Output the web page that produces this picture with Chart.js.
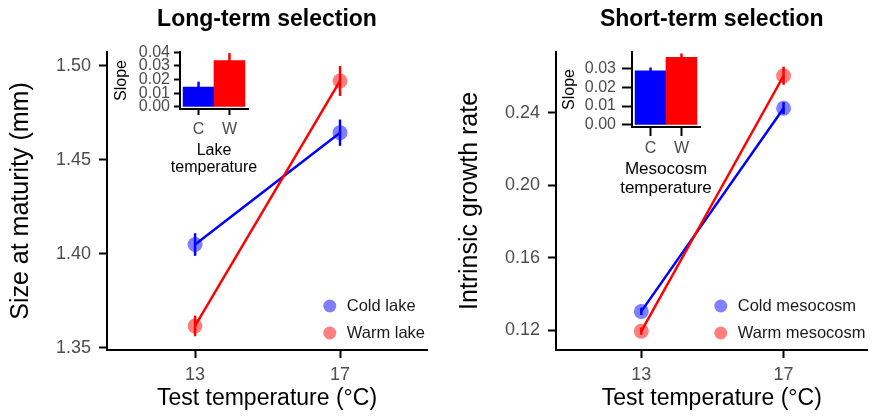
<!DOCTYPE html>
<html>
<head>
<meta charset="utf-8">
<script src="https://cdn.jsdelivr.net/npm/chart.js@4"></script>
<style>
  body { margin: 0; background: #fff; }
  #wrap { position: relative; width: 875px; height: 416px; overflow: hidden; }
  canvas { position: absolute; }
</style>
</head>
<body>
<div id="wrap">
  <canvas id="main1" width="437" height="416" style="left:0;top:0"></canvas>
  <canvas id="main2" width="438" height="416" style="left:437px;top:0"></canvas>
  <canvas id="inset1" width="170" height="145" style="left:110px;top:40px"></canvas>
  <canvas id="inset2" width="170" height="165" style="left:560px;top:40px"></canvas>
</div>
<script>
// data
var testTemps = [13, 17];

var coldLakeSize = [1.405, 1.4645];
var coldLakeErr = [0.006, 0.007];
var warmLakeSize = [1.3617, 1.492];
var warmLakeErr = [0.0055, 0.008];
var lakeTicks = [1.35, 1.40, 1.45, 1.50];

var coldMesoRate = [0.1305, 0.2426];
var coldMesoErr = [0.002, 0.0033];
var warmMesoRate = [0.1196, 0.2605];
var warmMesoErr = [0.002, 0.005];
var mesoTicks = [0.12, 0.16, 0.20, 0.24];

var insetCats = ['C', 'W'];
var lakeSlopes = [0.0145, 0.0339];
var lakeSlopeErr = [0.004, 0.0055];
var lakeSlopeTicks = [0, 0.01, 0.02, 0.03, 0.04];
var mesoSlopes = [0.0286, 0.0358];
var mesoSlopeErr = [0.0018, 0.002];
var mesoSlopeTicks = [0, 0.01, 0.02, 0.03];

var BLUE = '#0000ff', RED = '#ff0000';
var BLUE_A = 'rgba(0,0,255,0.5)', RED_A = 'rgba(255,0,0,0.5)';
var FONT = "'Liberation Sans', Arial, Helvetica, sans-serif";
var TICK_GREY = '#4d4d4d';

Chart.defaults.font.family = FONT;

function toPoints(xs, ys) {
  return xs.map(function(x, i) { return {x: x, y: ys[i]}; });
}

function fixedTicks(list) {
  return function(scale) {
    scale.ticks = list.map(function(v) { return {value: v}; });
  };
}

function noPad(scale) {
  scale.paddingTop = 0;
  scale.paddingBottom = 0;
  scale.paddingLeft = 0;
  scale.paddingRight = 0;
}

// vertical error bars drawn through the chart's own scales
var errorBars = {
  id: 'errorBars',
  afterDatasetsDraw: function(chart) {
    var ctx = chart.ctx;
    var xs = chart.scales.x, ys = chart.scales.y;
    ctx.save();
    ctx.lineWidth = 2.5;
    chart.data.datasets.forEach(function(ds) {
      if (!ds.errors) return;
      ds.data.forEach(function(p, i) {
        var px = xs.getPixelForValue(p.x);
        ctx.strokeStyle = Array.isArray(ds.errColor) ? ds.errColor[i] : ds.errColor;
        ctx.beginPath();
        ctx.moveTo(px, ys.getPixelForValue(p.y - ds.errors[i]));
        ctx.lineTo(px, ys.getPixelForValue(p.y + ds.errors[i]));
        ctx.stroke();
      });
    });
    ctx.restore();
  }
};

// legend in the lower right corner of the plot
var cornerLegend = {
  id: 'cornerLegend',
  afterDraw: function(chart) {
    var ctx = chart.ctx, area = chart.chartArea;
    var sets = chart.data.datasets;
    ctx.save();
    ctx.font = '16.5px ' + FONT;
    var maxW = 0;
    sets.forEach(function(d) { maxW = Math.max(maxW, ctx.measureText(d.label).width); });
    var textX = area.right - maxW - 2;
    sets.forEach(function(d, i) {
      var y = area.bottom - 44 + i * 27;
      ctx.fillStyle = d.pointBackgroundColor;
      ctx.beginPath();
      ctx.arc(textX - 17, y, 6.5, 0, Math.PI * 2);
      ctx.fill();
      ctx.fillStyle = '#1a1a1a';
      ctx.textBaseline = 'middle';
      ctx.textAlign = 'left';
      ctx.fillText(d.label, textX, y);
    });
    ctx.restore();
  }
};

// text centred over the plot area (panel titles, inset axis titles)
var areaText = {
  id: 'areaText',
  afterDraw: function(chart, args, opts) {
    if (!opts.lines) return;
    var ctx = chart.ctx, area = chart.chartArea;
    var cx = (area.left + area.right) / 2;
    ctx.save();
    ctx.font = opts.font;
    ctx.fillStyle = '#000';
    ctx.textAlign = 'center';
    ctx.textBaseline = 'middle';
    opts.lines.forEach(function(line, i) {
      var y = opts.fromBottom ? area.bottom + opts.offsets[i] : opts.offsets[i];
      ctx.fillText(line, cx, y);
    });
    ctx.restore();
  }
};

function lineSet(label, ys, errs, color, fill, order) {
  return {
    label: label,
    data: toPoints(testTemps, ys),
    errors: errs,
    errColor: color,
    borderColor: color,
    borderWidth: 2.5,
    pointRadius: 7.5,
    pointHoverRadius: 7.5,
    pointBorderWidth: 0,
    pointBackgroundColor: fill,
    order: order
  };
}

function drawMain(id, cfg) {
  var ctx = document.getElementById(id).getContext('2d');
  return new Chart(ctx, {
    type: 'line',
    data: { datasets: cfg.datasets },
    plugins: [errorBars, cornerLegend, areaText],
    options: {
      responsive: false,
      animation: false,
      events: [],
      layout: { padding: { left: 0, right: cfg.padRight, top: 52, bottom: 0 } },
      plugins: {
        legend: { display: false },
        tooltip: { enabled: false },
        areaText: { lines: [cfg.title], font: 'bold 23px ' + FONT, offsets: [20] }
      },
      scales: {
        x: {
          type: 'linear',
          min: cfg.xMin,
          max: cfg.xMax,
          afterBuildTicks: fixedTicks(testTemps),
          afterFit: function(s) { s.height = 66; noPad(s); },
          border: { color: '#000', width: 2 },
          grid: { drawOnChartArea: false, tickLength: 8, tickColor: '#000', tickWidth: 2 },
          ticks: { color: TICK_GREY, font: { size: 18 }, padding: 6 },
          title: { display: true, text: 'Test temperature (°C)', color: '#000',
                   font: { size: 23 }, padding: { top: 0, bottom: 4 } }
        },
        y: {
          min: cfg.yMin,
          max: cfg.yMax,
          afterBuildTicks: fixedTicks(cfg.yTicks),
          afterFit: function(s) { s.width = cfg.yWidth; noPad(s); },
          border: { color: '#000', width: 2 },
          grid: { drawOnChartArea: false, tickLength: 8, tickColor: '#000', tickWidth: 2 },
          ticks: { color: TICK_GREY, font: { size: 18 }, padding: 8,
                   callback: function(v) { return v.toFixed(2); } },
          title: { display: true, text: cfg.yTitle, color: '#000',
                   font: { size: 25 }, padding: { top: cfg.yTitlePad, bottom: 0 } }
        }
      }
    }
  });
}

function drawInset(id, cfg) {
  var ctx = document.getElementById(id).getContext('2d');
  return new Chart(ctx, {
    type: 'bar',
    data: {
      datasets: [{
        data: toPoints([0, 1], cfg.slopes),
        errors: cfg.errs,
        errColor: [BLUE, RED],
        backgroundColor: [BLUE, RED],
        borderWidth: 0,
        barPercentage: 1,
        categoryPercentage: 1
      }]
    },
    plugins: [errorBars, areaText],
    options: {
      responsive: false,
      animation: false,
      events: [],
      layout: { padding: { left: 0, right: cfg.padRight, top: 12, bottom: 0 } },
      plugins: {
        legend: { display: false },
        tooltip: { enabled: false },
        areaText: { lines: cfg.xTitle, font: cfg.xTitleFont, offsets: cfg.xTitleOffsets, fromBottom: true }
      },
      scales: {
        x: {
          type: 'linear',
          offset: false,
          min: -0.6,
          max: 1.6,
          afterBuildTicks: fixedTicks([0, 1]),
          afterFit: function(s) { s.height = cfg.xHeight; noPad(s); },
          border: { color: '#000', width: 2 },
          grid: { offset: false, drawOnChartArea: false, tickLength: cfg.xTick, tickColor: '#000', tickWidth: 2 },
          ticks: { color: TICK_GREY, font: { size: 16 }, padding: cfg.xTickPad,
                   callback: function(v) { return insetCats[v]; } }
        },
        y: {
          min: cfg.yMin,
          max: cfg.yMax,
          afterBuildTicks: fixedTicks(cfg.yTicks),
          afterFit: function(s) { s.width = cfg.yWidth; noPad(s); },
          border: { color: '#000', width: 2 },
          grid: { drawOnChartArea: false, tickLength: cfg.yTick, tickColor: '#000', tickWidth: 2 },
          ticks: { color: TICK_GREY, font: { size: 16 }, padding: cfg.yTickPad, autoSkip: false,
                   callback: function(v) { return v.toFixed(2); } },
          title: { display: true, text: 'Slope', color: '#000',
                   font: { size: 16 }, padding: { top: cfg.yTitlePad, bottom: 0 } }
        }
      }
    }
  });
}

drawMain('main1', {
  title: 'Long-term selection',
  yTitle: 'Size at maturity (mm)',
  datasets: [
    lineSet('Cold lake', coldLakeSize, coldLakeErr, BLUE, BLUE_A, 2),
    lineSet('Warm lake', warmLakeSize, warmLakeErr, RED, RED_A, 1)
  ],
  xMin: 10.57, xMax: 19.4,
  yMin: 1.3489, yMax: 1.5074, yTicks: lakeTicks,
  yWidth: 107, yTitlePad: 6, padRight: 10
});

drawMain('main2', {
  title: 'Short-term selection',
  yTitle: 'Intrinsic growth rate',
  datasets: [
    lineSet('Cold mesocosm', coldMesoRate, coldMesoErr, BLUE, BLUE_A, 2),
    lineSet('Warm mesocosm', warmMesoRate, warmMesoErr, RED, RED_A, 1)
  ],
  xMin: 10.6, xMax: 19.36,
  yMin: 0.1092, yMax: 0.2736, yTicks: mesoTicks,
  yWidth: 119, yTitlePad: 18, padRight: 0
});

drawInset('inset1', {
  slopes: lakeSlopes, errs: lakeSlopeErr,
  yMin: -0.0015, yMax: 0.0402, yTicks: lakeSlopeTicks,
  yWidth: 70, yTick: 6, yTickPad: 4, yTitlePad: 2,
  xHeight: 76, xTick: 6, xTickPad: 5,
  xTitle: ['Lake', 'temperature'], xTitleFont: '16px ' + FONT, xTitleOffsets: [42, 59],
  padRight: 32
});

drawInset('inset2', {
  slopes: mesoSlopes, errs: mesoSlopeErr,
  yMin: -0.0011, yMax: 0.0386, yTicks: mesoSlopeTicks,
  yWidth: 72, yTick: 10, yTickPad: 6, yTitlePad: 0,
  xHeight: 78, xTick: 9, xTickPad: 3,
  xTitle: ['Mesocosm', 'temperature'], xTitleFont: '17px ' + FONT, xTitleOffsets: [42, 61],
  padRight: 30
});
</script>
</body>
</html>
